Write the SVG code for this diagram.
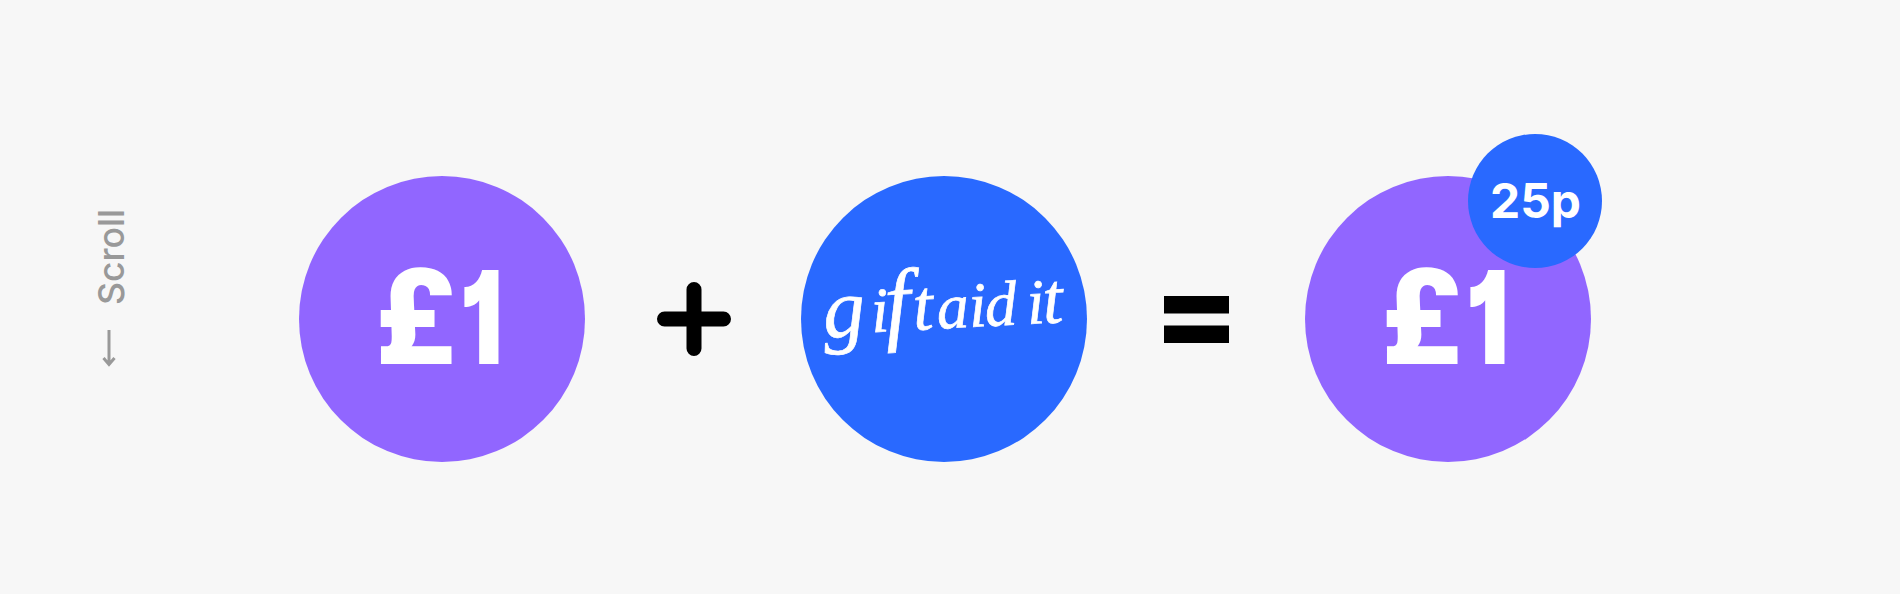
<svg xmlns="http://www.w3.org/2000/svg" width="1900" height="594" viewBox="0 0 1900 594">
<style>
.pound{font-family:Roboto,"Liberation Sans",sans-serif;font-weight:900;font-size:134px;fill:#fff}
.one{font-family:Inter,"Liberation Sans",sans-serif;font-weight:900;font-size:129px;fill:#fff;font-feature-settings:"cv01"}
.purple{fill:#9166ff}
.blue{fill:#2969ff}
.scroll{font-family:Inter,"Liberation Sans",sans-serif;font-weight:500;font-size:36px;fill:#999}
.op{fill:#000}
</style>
<rect width="1900" height="594" fill="#f7f7f7"/>
<g id="connectors"></g>
<g id="scroll">
<text class="scroll" transform="translate(124 305) rotate(-90)" textLength="96" lengthAdjust="spacingAndGlyphs">Scroll</text>
<path d="M109 330V364M103.500 358L109 364.500L114.500 358" fill="none" stroke="#999" stroke-width="3"/>
</g>
<g id="pound-one">
<circle class="purple" cx="442" cy="319" r="143"/>
<text class="pound" x="374" y="364" textLength="81" lengthAdjust="spacingAndGlyphs">£</text>
<text class="one" x="460" y="364" textLength="43" lengthAdjust="spacingAndGlyphs">1</text>
</g>
<g id="plus">
<path d="M694 289.500V348.500M664.500 319H723.500" fill="none" stroke="#000" stroke-width="15" stroke-linecap="round"/>
</g>
<g id="gift-aid">
<circle class="blue" cx="944" cy="319" r="143"/>
<text transform="translate(838 334) rotate(-3)" font-family="'Liberation Serif',serif" font-style="italic" font-size="64" fill="#fff" stroke="#fff" stroke-width="0.7"><tspan x="-14" y="3" font-size="84">g</tspan><tspan x="34" y="0">i</tspan><tspan x="48" y="2" font-size="92">f</tspan><tspan x="76" y="0" font-size="72">t</tspan><tspan x="100" y="0">a</tspan><tspan x="132" y="0">i</tspan><tspan x="148" y="0">d</tspan><tspan x="182" y="0"> </tspan><tspan x="190" y="0">i</tspan><tspan x="206" y="0" font-size="72">t</tspan></text>
</g>
<g id="equals">
<rect class="op" x="1164" y="296" width="65" height="17.500"/>
<rect class="op" x="1164" y="325.500" width="65" height="17.500"/>
</g>
<g id="result">
<circle class="purple" cx="1448" cy="319" r="143"/>
<text class="pound" x="1380" y="364" textLength="81" lengthAdjust="spacingAndGlyphs">£</text>
<text class="one" x="1466" y="364" textLength="43" lengthAdjust="spacingAndGlyphs">1</text>
</g>
<g id="bonus">
<circle class="blue" cx="1535" cy="201" r="67"/>
<text x="1490" y="217.500" font-family="Inter,'Liberation Sans',sans-serif" font-weight="700" font-size="48" fill="#fff" textLength="91" lengthAdjust="spacingAndGlyphs">25p</text>
</g>
</svg>
